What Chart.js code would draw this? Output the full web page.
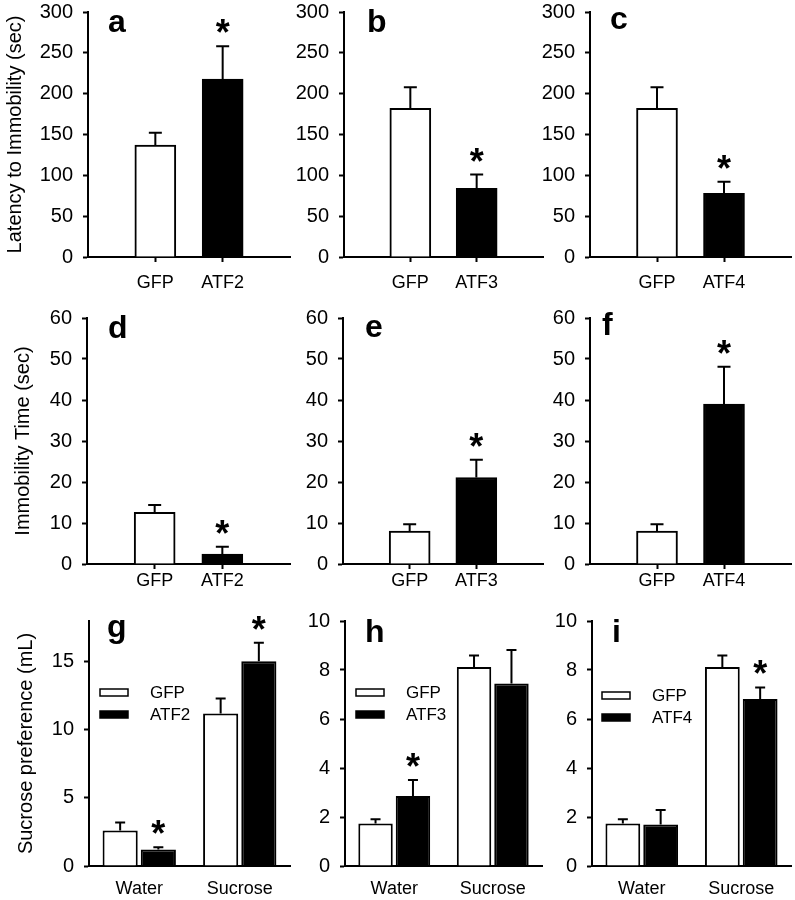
<!DOCTYPE html>
<html>
<head>
<meta charset="utf-8">
<script src="https://cdn.jsdelivr.net/npm/chart.js@4.4.0/dist/chart.umd.min.js"></script>
<style>
  html, body { margin: 0; padding: 0; background: #fff; }
  #fig { position: relative; width: 795px; height: 900px; overflow: hidden; }
</style>
</head>
<body>
<div id="fig"></div>
<script>
// --- data ---
const groupsA = ['GFP', 'ATF2'];
const groupsB = ['GFP', 'ATF3'];
const groupsC = ['GFP', 'ATF4'];
const phases  = ['Water', 'Sucrose'];

// latency to immobility (sec)
const latencyA = [137, 218],  latencyErrA = [15, 40];
const latencyB = [182, 84],   latencyErrB = [26, 17];
const latencyC = [182, 78],   latencyErrC = [26, 14];
// immobility time (sec)
const immobD = [12.6, 2.4],   immobErrD = [1.8, 1.8];
const immobE = [8.0, 21.1],   immobErrE = [1.7, 4.3];
const immobF = [8.0, 39.0],   immobErrF = [1.7, 9.1];
// sucrose preference (mL): [water, sucrose]
const gfpG  = [2.6, 11.2],  gfpErrG  = [0.6, 1.1];
const atf2G = [1.22, 15.05], atf2ErrG = [0.15, 1.35];
const gfpH  = [1.73, 8.12], gfpErrH  = [0.18, 0.47];
const atf3H = [2.86, 7.45], atf3ErrH = [0.65, 1.37];
const gfpI  = [1.73, 8.12], gfpErrI  = [0.18, 0.47];
const atf4I = [1.69, 6.82], atf4ErrI = [0.6, 0.47];

// significance marks
const starsTop = [false, true];
const starsG = [[false, false], [true, true]];
const starsH = [[false, false], [true, false]];
const starsI = [[false, false], [false, true]];

const FONT = 'Arial, "Liberation Sans", sans-serif';
Chart.defaults.font.family = FONT;
Chart.defaults.color = '#000';

// error bars, asterisks, panel letter, legend
const figPlugin = {
  id: 'fig',
  afterDatasetsDraw(chart, args, opts) {
    const ctx = chart.ctx, ys = chart.scales.y;
    chart.data.datasets.forEach((ds, di) => {
      const meta = chart.getDatasetMeta(di);
      meta.data.forEach((bar, i) => {
        const v = ds.data[i], e = ds.errors ? ds.errors[i] : null;
        if (v == null || e == null) return;
        const yt = ys.getPixelForValue(v + e);
        ctx.save();
        ctx.strokeStyle = '#000';
        ctx.lineWidth = 2;
        ctx.beginPath();
        ctx.moveTo(bar.x, bar.y);
        ctx.lineTo(bar.x, yt);
        ctx.moveTo(bar.x - opts.cap / 2, yt);
        ctx.lineTo(bar.x + opts.cap / 2, yt);
        ctx.stroke();
        if (ds.stars && ds.stars[i]) {
          ctx.fillStyle = '#000';
          ctx.font = 'bold 36px ' + FONT;
          ctx.textAlign = 'center';
          ctx.textBaseline = 'alphabetic';
          ctx.fillText('*', bar.x, yt - 1);
        }
        ctx.restore();
      });
    });
  },
  afterDraw(chart, args, opts) {
    const ctx = chart.ctx, area = chart.chartArea;
    ctx.save();
    ctx.fillStyle = '#000';
    ctx.font = 'bold 32px ' + FONT;
    ctx.textAlign = 'left';
    ctx.textBaseline = 'alphabetic';
    ctx.fillText(opts.letter, area.left + opts.letterX, area.top + opts.letterY);
    if (opts.legend) {
      ctx.font = '17px ' + FONT;
      ctx.textBaseline = 'middle';
      chart.data.datasets.forEach((ds, k) => {
        const bx = area.left + opts.legend.x, by = area.top + opts.legend.y + k * 22;
        ctx.fillStyle = ds.backgroundColor;
        ctx.fillRect(bx, by, 28, 7);
        ctx.strokeStyle = '#000';
        ctx.lineWidth = 1.5;
        ctx.strokeRect(bx, by, 28, 7);
        ctx.fillStyle = '#000';
        ctx.fillText(ds.label, bx + 50, by + 4);
      });
    }
    ctx.restore();
  }
};

const fig = document.getElementById('fig');
const pad = arr => [null, ...arr, null];

function makePanel(p) {
  const c = document.createElement('canvas');
  c.width = p.width; c.height = p.height;
  c.style.cssText = `position:absolute;left:${p.left}px;top:${p.top}px;width:${p.width}px;height:${p.height}px`;
  fig.appendChild(c);

  const grouped = !!p.grouped;
  let data;
  if (grouped) {
    data = {
      labels: phases,
      datasets: p.sets.map(s => ({
        label: s.label, data: s.values, errors: s.errors, stars: s.stars,
        backgroundColor: s.color, borderColor: '#000', borderWidth: 2,
        categoryPercentage: 0.76, barPercentage: 0.92
      }))
    };
  } else {
    data = {
      labels: pad(p.groups),
      datasets: [{
        data: pad(p.values), errors: pad(p.errors), stars: pad(p.stars),
        backgroundColor: ['#fff', '#fff', '#000', '#fff'],
        borderColor: '#000', borderWidth: 2, barThickness: 41
      }]
    };
  }
  const step = p.step;

  new Chart(c, {
    type: 'bar',
    data,
    plugins: [figPlugin],
    options: {
      responsive: false,
      animation: false,
      events: [],
      layout: { padding: { top: p.areaTop - p.top, right: p.left + p.width - p.axisEnd, left: 0, bottom: 0 } },
      plugins: {
        legend: { display: false },
        tooltip: { enabled: false },
        fig: { cap: grouped ? 10 : 13, letter: p.letter, letterX: p.letterX, letterY: p.letterY, legend: p.legend || null }
      },
      scales: {
        x: {
          offset: grouped,
          grid: {
            display: true, offset: grouped, drawOnChartArea: false, drawTicks: !grouped,
            tickLength: 5, tickWidth: 2,
            tickColor: ctx => (ctx.tick && ctx.tick.label ? '#000' : 'rgba(0,0,0,0)')
          },
          border: { display: true, color: '#000', width: 2 },
          ticks: { color: '#000', font: { size: 18 }, padding: p.labelPad, maxRotation: 0, autoSkip: false },
          afterFit: s => { s.height = p.top + p.height - p.areaBottom; s.paddingLeft = 0; s.paddingRight = 0; }
        },
        y: {
          min: 0, max: p.max,
          ticks: { stepSize: step, color: '#000', font: { size: 20 }, padding: 10 },
          grid: { display: true, drawOnChartArea: false, drawTicks: true, tickLength: 5, tickWidth: 2, tickColor: '#000' },
          border: { display: true, color: '#000', width: 2 },
          title: {
            display: !!p.title, text: p.title || '', color: '#000',
            font: { size: 20 }, padding: { top: p.titlePad || 0, bottom: 0 }
          },
          afterBuildTicks: s => {
            s.ticks = s.ticks.filter(t => Math.abs(t.value / step - Math.round(t.value / step)) < 1e-9);
          },
          afterFit: s => { s.width = p.axisX - p.left; s.paddingTop = 0; s.paddingBottom = 0; }
        }
      }
    }
  });
}

// --- layout of the 3 x 3 grid (canvases are transparent and may overlap) ---
const colBox = [{ left: 0, width: 292 }, { left: 285, width: 260 }, { left: 530, width: 265 }];
const rowBox = [
  { top: 0,   height: 300, areaTop: 12,  areaBottom: 257, labelPad: 10 },
  { top: 300, height: 300, areaTop: 318, areaBottom: 564, labelPad: 1 },
  { top: 600, height: 300, areaTop: 621, areaBottom: 866, labelPad: 12 }
];
const place = (r, c, extra) => Object.assign({}, colBox[c], rowBox[r], extra);

makePanel(place(0, 0, { axisX: 88, axisEnd: 290, groups: groupsA, values: latencyA, errors: latencyErrA, stars: starsTop,
  max: 300, step: 50, title: 'Latency to Immobility (sec)', titlePad: 3, letter: 'a', letterX: 20, letterY: 20 }));
makePanel(place(0, 1, { axisX: 344, axisEnd: 543, groups: groupsB, values: latencyB, errors: latencyErrB, stars: starsTop,
  max: 300, step: 50, letter: 'b', letterX: 23, letterY: 20 }));
makePanel(place(0, 2, { axisX: 590, axisEnd: 791, groups: groupsC, values: latencyC, errors: latencyErrC, stars: starsTop,
  max: 300, step: 50, letter: 'c', letterX: 20, letterY: 17 }));

makePanel(place(1, 0, { axisX: 87, axisEnd: 290, groups: groupsA, values: immobD, errors: immobErrD, stars: starsTop,
  max: 60, step: 10, title: 'Immobility Time (sec)', titlePad: 11, letter: 'd', letterX: 21, letterY: 20 }));
makePanel(place(1, 1, { axisX: 343, axisEnd: 543, groups: groupsB, values: immobE, errors: immobErrE, stars: starsTop,
  max: 60, step: 10, letter: 'e', letterX: 22, letterY: 19 }));
makePanel(place(1, 2, { axisX: 590, axisEnd: 791, groups: groupsC, values: immobF, errors: immobErrF, stars: starsTop,
  max: 60, step: 10, letter: 'f', letterX: 12, letterY: 17 }));

makePanel(place(2, 0, { axisX: 89, axisEnd: 290, grouped: true, max: 18, step: 5,
  title: 'Sucrose preference (mL)', titlePad: 14, letter: 'g', letterX: 18, letterY: 16, legend: { x: 11, y: 68 },
  sets: [
    { label: 'GFP',  values: gfpG,  errors: gfpErrG,  stars: starsG[0], color: '#fff' },
    { label: 'ATF2', values: atf2G, errors: atf2ErrG, stars: starsG[1], color: '#000' }
  ] }));
makePanel(place(2, 1, { axisX: 345, axisEnd: 542, grouped: true, max: 10, step: 2,
  letter: 'h', letterX: 20, letterY: 21, legend: { x: 11, y: 68 },
  sets: [
    { label: 'GFP',  values: gfpH,  errors: gfpErrH,  stars: starsH[0], color: '#fff' },
    { label: 'ATF3', values: atf3H, errors: atf3ErrH, stars: starsH[1], color: '#000' }
  ] }));
makePanel(place(2, 2, { axisX: 592, axisEnd: 791, grouped: true, max: 10, step: 2,
  letter: 'i', letterX: 20, letterY: 21, legend: { x: 10, y: 71 },
  sets: [
    { label: 'GFP',  values: gfpI,  errors: gfpErrI,  stars: starsI[0], color: '#fff' },
    { label: 'ATF4', values: atf4I, errors: atf4ErrI, stars: starsI[1], color: '#000' }
  ] }));
</script>
</body>
</html>
